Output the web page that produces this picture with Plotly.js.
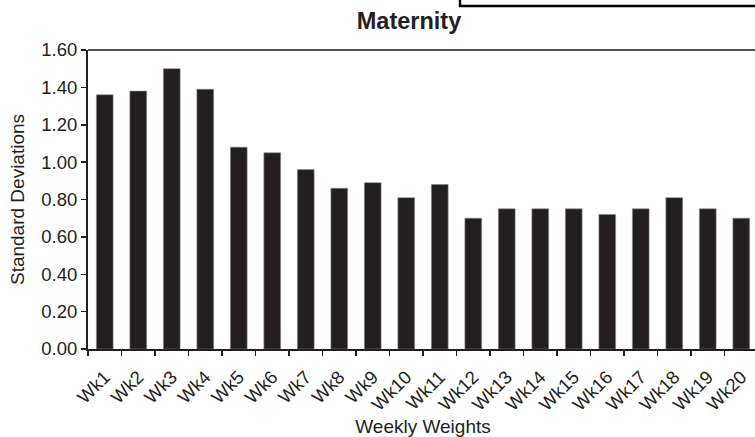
<!DOCTYPE html>
<html><head><meta charset="utf-8">
<script src="https://cdn.plot.ly/plotly-3.0.1.min.js"></script>
<style>html,body{margin:0;padding:0;overflow:hidden;background:#fff;width:755px;height:437px}</style>
</head><body><div id="chart" style="width:760px;height:437px"></div>
<script>
const weeks = ["Wk1","Wk2","Wk3","Wk4","Wk5","Wk6","Wk7","Wk8","Wk9","Wk10","Wk11","Wk12","Wk13","Wk14","Wk15","Wk16","Wk17","Wk18","Wk19","Wk20"];
const stdDevs = [1.36,1.38,1.50,1.39,1.08,1.05,0.96,0.86,0.89,0.81,0.88,0.70,0.75,0.75,0.75,0.72,0.75,0.81,0.75,0.70];
const yTicks = [0,0.2,0.4,0.6,0.8,1.0,1.2,1.4,1.6];
const chartTitle = "Maternity";
const xTitle = "Weekly Weights";
const yTitle = "Standard Deviations";

const ink = "#231f20";
const fam = "Liberation Sans, Arial, sans-serif";
const tickFont = {family: fam, size: 18.5, color: ink};
const titleFont = {family: fam, size: 19, color: ink};

Plotly.newPlot("chart", [{
  type: "bar", x: weeks, y: stdDevs,
  marker: {color: ink, line: {color: "#8a8a8a", width: 0.6}},
  hoverinfo: "skip"
}], {
  width: 760, height: 437,
  margin: {l: 88, r: 2, t: 50, b: 88},
  paper_bgcolor: "#fff", plot_bgcolor: "#fff",
  font: tickFont,
  bargap: 0.5,
  showlegend: false,
  title: {text: chartTitle, font: {family: fam, size: 23.5, color: ink, weight: "bold"},
          xref: "container", x: 409/760, xanchor: "center", yref: "container", y: 1 - 21/437, yanchor: "middle"},
  xaxis: {
    type: "category", showline: true, linecolor: ink, linewidth: 2,
    ticks: "outside", tickson: "boundaries", ticklen: 5, tickwidth: 1.5, tickcolor: ink,
    tickangle: -45, tickfont: tickFont, ticklabelstandoff: 8, showgrid: false, zeroline: false,
    title: {text: xTitle, font: titleFont, standoff: 12}
  },
  yaxis: {
    range: [0, 1.6], tickvals: yTicks, tickformat: ".2f",
    showline: true, linecolor: ink, linewidth: 2,
    ticks: "outside", ticklen: 5, tickwidth: 1.5, tickcolor: ink, tickfont: tickFont,
    showgrid: false, zeroline: false,
    title: {text: yTitle, font: titleFont, standoff: 12}
  },
  shapes: [
    {type: "line", xref: "paper", yref: "paper", x0: 0, x1: 1, y0: 1, y1: 1, line: {color: ink, width: 1.3}},
    {type: "rect", xref: "paper", yref: "paper", x0: (460-88)/670, x1: 1.1, y0: (349-6)/299, y1: 1.4, line: {color: "#000", width: 2.5}, fillcolor: "rgba(0,0,0,0)"}
  ]
}, {displayModeBar: false, staticPlot: true});
</script></body></html>
